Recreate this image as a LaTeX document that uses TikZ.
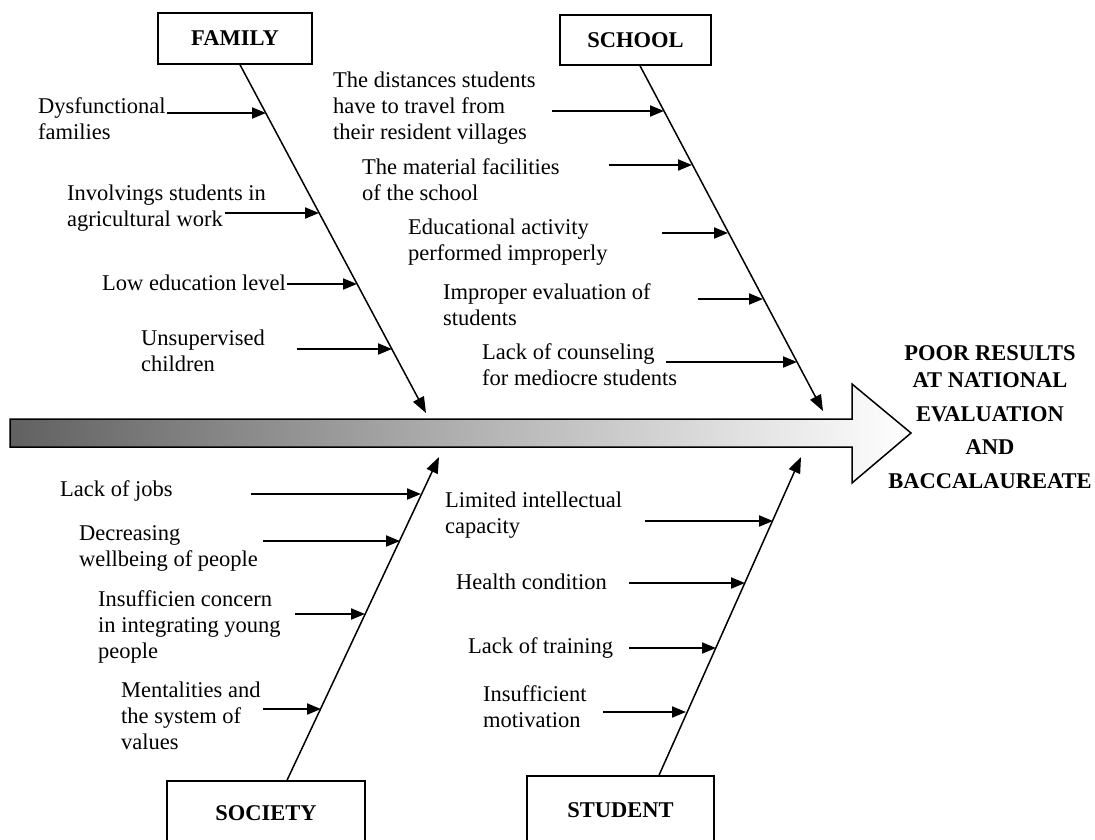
\documentclass[tikz,border=0pt]{standalone}
\usepackage{fontspec}
\setmainfont{Liberation Serif}
\usetikzlibrary{arrows.meta}
\begin{document}
\begin{tikzpicture}[x=1pt,y=-1pt,
  lbl/.style={anchor=north west, inner sep=0pt, align=left, font=\fontsize{22.5}{26}\selectfont},
  box/.style={draw, line width=1.5pt, fill=white, font=\bfseries\fontsize{22.5}{26}\selectfont, inner sep=0pt},
  bone/.style={line width=1.5pt, -{Triangle[length=16pt,width=12pt]}},
  cause/.style={line width=2pt, -{Triangle[length=14pt,width=11pt]}}]
\useasboundingbox (0,0) rectangle (1095,839);
\clip (0,0) rectangle (1095,839);

% spine
\path[left color=black!62, right color=white, draw=black, line width=1.5pt]
  (10,419) -- (852,419) -- (852,384) -- (911,433) -- (852,483) -- (852,447) -- (10,447) -- cycle;

% title
\node[anchor=north, inner sep=0pt, align=center, font=\bfseries\fontsize{22.5}{27}\selectfont] (title) at (990,345.5)
  {POOR RESULTS\\AT NATIONAL\\[7pt]EVALUATION\\[6pt]AND\\[7pt]BACCALAUREATE};

% category boxes
\node[box, minimum width=154pt, minimum height=51pt] (family) at (235,38.5) {FAMILY};
\node[box, minimum width=151pt, minimum height=50pt] (school) at (635.5,40) {SCHOOL};
\node[box, minimum width=198pt, minimum height=64pt] (society) at (266,813) {SOCIETY};
\node[box, minimum width=187pt, minimum height=68pt] (student) at (620.5,810) {STUDENT};

% bone tips
\coordinate (famtip) at (426,413);
\coordinate (schtip) at (823,411);
\coordinate (soctip) at (439,457);
\coordinate (stutip) at (801,457);

\draw[bone] ([xshift=5pt]family.south) -- (famtip);
\draw[bone] ([xshift=4.5pt]school.south) -- (schtip);
\draw[bone] ([xshift=21pt]society.north) -- (soctip);
\draw[bone] ([xshift=38.5pt]student.north) -- (stutip);

% FAMILY causes
\node[lbl] (f1) at (38,97) {Dysfunctional\\families};
\node[lbl] (f2) at (67,185) {Involvings students in\\agricultural work};
\node[lbl] (f3) at (102,275) {Low education level};
\node[lbl] (f4) at (141,330) {Unsupervised\\children};
\coordinate (f1s) at (167,113); \coordinate (f1e) at (266,113);
\coordinate (f2s) at (225,213); \coordinate (f2e) at (319,213);
\coordinate (f3s) at (287,284); \coordinate (f3e) at (357,284);
\coordinate (f4s) at (297,349); \coordinate (f4e) at (392,349);
\draw[cause] (f1s) -- (f1e);
\draw[cause] (f2s) -- (f2e);
\draw[cause] (f3s) -- (f3e);
\draw[cause] (f4s) -- (f4e);

% SCHOOL causes
\node[lbl] (s1) at (333,72) {The distances students\\have to travel from\\their resident villages};
\node[lbl] (s2) at (362,158) {The material facilities\\of the school};
\node[lbl] (s3) at (408,219) {Educational activity\\performed improperly};
\node[lbl] (s4) at (443,283) {Improper evaluation of\\students};
\node[lbl] (s5) at (482,343) {Lack of counseling\\for mediocre students};
\coordinate (s1s) at (552,111); \coordinate (s1e) at (664,111);
\coordinate (s2s) at (609,165); \coordinate (s2e) at (692,165);
\coordinate (s3s) at (662,233); \coordinate (s3e) at (728,233);
\coordinate (s4s) at (698,299); \coordinate (s4e) at (763,299);
\coordinate (s5s) at (666,362); \coordinate (s5e) at (797,362);
\draw[cause] (s1s) -- (s1e);
\draw[cause] (s2s) -- (s2e);
\draw[cause] (s3s) -- (s3e);
\draw[cause] (s4s) -- (s4e);
\draw[cause] (s5s) -- (s5e);

% SOCIETY causes
\node[lbl] (o1) at (60,480) {Lack of jobs};
\node[lbl] (o2) at (79,525) {Decreasing\\wellbeing of people};
\node[lbl] (o3) at (98,590) {Insufficien concern\\in integrating young\\people};
\node[lbl] (o4) at (121,682) {Mentalities and\\the system of\\values};
\coordinate (o1s) at (251,494); \coordinate (o1e) at (421,494);
\coordinate (o2s) at (263,541); \coordinate (o2e) at (400,541);
\coordinate (o3s) at (295,614); \coordinate (o3e) at (365,614);
\coordinate (o4s) at (263,709); \coordinate (o4e) at (321,709);
\draw[cause] (o1s) -- (o1e);
\draw[cause] (o2s) -- (o2e);
\draw[cause] (o3s) -- (o3e);
\draw[cause] (o4s) -- (o4e);

% STUDENT causes
\node[lbl] (t1) at (445,492) {Limited intellectual\\capacity};
\node[lbl] (t2) at (456,574) {Health condition};
\node[lbl] (t3) at (468,637) {Lack of training};
\node[lbl] (t4) at (483,685) {Insufficient\\motivation};
\coordinate (t1s) at (645,521); \coordinate (t1e) at (773,521);
\coordinate (t2s) at (629,583); \coordinate (t2e) at (745,583);
\coordinate (t3s) at (629,648); \coordinate (t3e) at (716,648);
\coordinate (t4s) at (603,712); \coordinate (t4e) at (686,712);
\draw[cause] (t1s) -- (t1e);
\draw[cause] (t2s) -- (t2e);
\draw[cause] (t3s) -- (t3e);
\draw[cause] (t4s) -- (t4e);
\end{tikzpicture}
\end{document}
